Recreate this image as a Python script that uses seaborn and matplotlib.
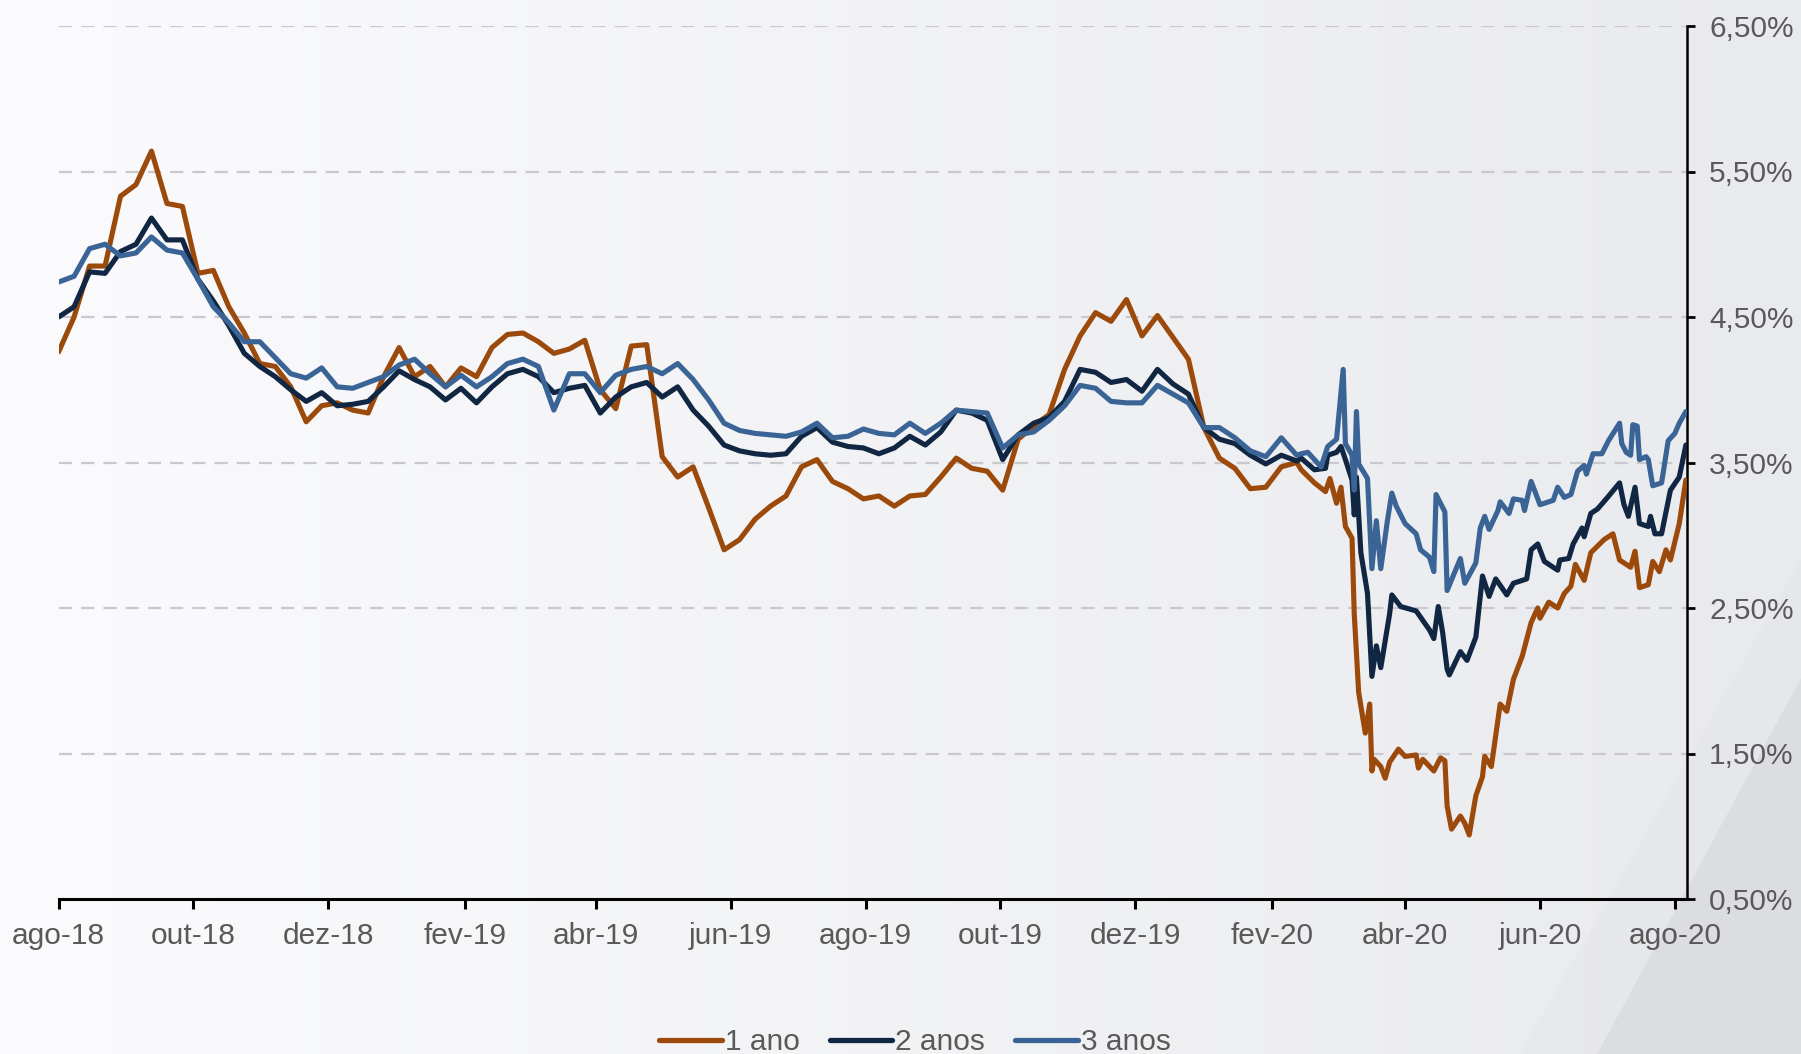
import numpy as np
import pandas as pd
import matplotlib
matplotlib.use("Agg")
import matplotlib.pyplot as plt
from matplotlib.patches import Polygon
from matplotlib.lines import Line2D
import seaborn as sns

# ---------------- data ----------------
start = pd.Timestamp("2018-08-01")

# weekly readings (day offsets 0,7,...,560) then detailed 2020 readings
weekly_days = list(range(0, 561, 7))

v1_weekly = [4.26, 4.50, 4.85, 4.85, 5.33, 5.41, 5.64, 5.28, 5.26, 4.80,
             4.82, 4.57, 4.39, 4.18, 4.16, 4.02, 3.78, 3.89, 3.91, 3.86,
             3.84, 4.09, 4.29, 4.09, 4.16, 4.02, 4.15, 4.09, 4.29, 4.38,
             4.39, 4.33, 4.25, 4.28, 4.34, 4.00, 3.87, 4.30, 4.31, 3.54,
             3.40, 3.47, 3.19, 2.90, 2.97, 3.11, 3.20, 3.27, 3.47, 3.52,
             3.37, 3.32, 3.25, 3.27, 3.20, 3.27, 3.28, 3.40, 3.53, 3.46,
             3.44, 3.31, 3.66, 3.75, 3.83, 4.14, 4.37, 4.53, 4.47, 4.62,
             4.37, 4.51, 4.36, 4.21, 3.74, 3.53, 3.46, 3.32, 3.33, 3.47,
             3.50]
v2_weekly = [4.50, 4.57, 4.81, 4.80, 4.95, 5.00, 5.18, 5.03, 5.03, 4.76,
             4.61, 4.44, 4.25, 4.16, 4.09, 4.00, 3.92, 3.98, 3.89, 3.90,
             3.92, 4.02, 4.13, 4.07, 4.02, 3.93, 4.01, 3.91, 4.02, 4.11,
             4.14, 4.09, 3.98, 4.01, 4.03, 3.84, 3.95, 4.02, 4.05, 3.95,
             4.02, 3.86, 3.75, 3.62, 3.58, 3.56, 3.55, 3.56, 3.68, 3.74,
             3.64, 3.61, 3.60, 3.56, 3.60, 3.68, 3.62, 3.71, 3.86, 3.84,
             3.79, 3.52, 3.69, 3.77, 3.81, 3.92, 4.14, 4.12, 4.05, 4.07,
             3.99, 4.14, 4.04, 3.97, 3.74, 3.66, 3.63, 3.55, 3.49, 3.55,
             3.51]
v3_weekly = [4.74, 4.78, 4.97, 5.00, 4.92, 4.94, 5.05, 4.96, 4.94, 4.76,
             4.57, 4.46, 4.33, 4.33, 4.22, 4.11, 4.08, 4.15, 4.02, 4.01,
             4.05, 4.09, 4.17, 4.21, 4.11, 4.02, 4.10, 4.02, 4.09, 4.18,
             4.21, 4.16, 3.86, 4.11, 4.11, 3.98, 4.10, 4.14, 4.16, 4.11,
             4.18, 4.07, 3.93, 3.77, 3.72, 3.70, 3.69, 3.68, 3.71, 3.77,
             3.67, 3.68, 3.73, 3.70, 3.69, 3.77, 3.70, 3.77, 3.86, 3.85,
             3.84, 3.60, 3.69, 3.71, 3.79, 3.89, 4.03, 4.01, 3.92, 3.91,
             3.91, 4.03, 3.97, 3.91, 3.74, 3.74, 3.67, 3.58, 3.54, 3.67,
             3.55]

d1_tail = [562, 568, 573, 575, 578, 580, 582, 585, 586, 588, 591, 593, 594,
           595, 598, 600, 602, 606, 609, 614, 615, 617, 622, 625, 627, 628,
           630, 634, 636, 638, 641, 644, 645, 648, 652, 655, 658, 662, 666,
           669, 670, 674, 678, 681, 684, 686, 690, 693, 699, 703, 706, 711,
           713, 715, 719, 721, 724, 727, 729, 733, 736]
v1_tail = [3.45, 3.36, 3.30, 3.39, 3.22, 3.33, 3.06, 2.98, 2.46, 1.92, 1.64,
           1.84, 1.38, 1.46, 1.41, 1.33, 1.44, 1.53, 1.48, 1.49, 1.40, 1.46,
           1.38, 1.47, 1.45, 1.14, 0.98, 1.07, 1.02, 0.94, 1.21, 1.34, 1.48,
           1.41, 1.84, 1.79, 2.01, 2.17, 2.40, 2.50, 2.43, 2.54, 2.50, 2.60,
           2.65, 2.80, 2.69, 2.88, 2.97, 3.01, 2.83, 2.78, 2.89, 2.64, 2.66,
           2.82, 2.75, 2.90, 2.83, 3.08, 3.38]

d2_tail = [562, 568, 573, 574, 578, 580, 582, 585, 586, 587, 589, 592, 594,
           596, 598, 602, 603, 607, 614, 620, 622, 624, 626, 628, 629, 634,
           637, 641, 644, 647, 650, 655, 658, 664, 666, 669, 672, 678, 679,
           683, 685, 689, 690, 693, 696, 700, 706, 708, 710, 713, 715, 719,
           720, 722, 725, 727, 729, 733, 736]
v2_tail = [3.53, 3.45, 3.46, 3.55, 3.57, 3.61, 3.52, 3.38, 3.14, 3.40, 2.88,
           2.60, 2.03, 2.24, 2.09, 2.46, 2.59, 2.51, 2.48, 2.35, 2.29, 2.51,
           2.33, 2.08, 2.04, 2.20, 2.14, 2.30, 2.72, 2.58, 2.70, 2.59, 2.67,
           2.70, 2.90, 2.94, 2.82, 2.76, 2.83, 2.84, 2.94, 3.05, 2.99, 3.15,
           3.18, 3.25, 3.36, 3.21, 3.13, 3.33, 3.08, 3.06, 3.13, 3.01, 3.01,
           3.16, 3.31, 3.40, 3.62]

d3_tail = [562, 565, 571, 574, 578, 581, 582, 585, 586, 587, 588, 592, 594,
           596, 598, 601, 603, 605, 609, 614, 616, 620, 622, 623, 627, 628,
           634, 636, 641, 643, 645, 647, 651, 652, 656, 658, 662, 663, 666,
           670, 676, 678, 681, 684, 687, 690, 691, 694, 698, 701, 706, 707,
           709, 711, 712, 714, 715, 718, 719, 721, 725, 728, 731, 733, 736]
v3_tail = [3.56, 3.57, 3.47, 3.61, 3.66, 4.14, 3.63, 3.55, 3.31, 3.85, 3.49,
           3.39, 2.77, 3.10, 2.77, 3.10, 3.29, 3.20, 3.08, 3.01, 2.90, 2.85,
           2.75, 3.28, 3.16, 2.62, 2.84, 2.67, 2.81, 3.05, 3.13, 3.04, 3.17,
           3.23, 3.15, 3.25, 3.24, 3.17, 3.37, 3.21, 3.24, 3.33, 3.26, 3.28,
           3.44, 3.48, 3.42, 3.56, 3.56, 3.65, 3.77, 3.63, 3.57, 3.55, 3.76,
           3.75, 3.52, 3.54, 3.52, 3.34, 3.36, 3.65, 3.70, 3.77, 3.85]

series_names = ["1 ano", "2 anos", "3 anos"]
series_colors = ["#9C4A0C", "#102642", "#3A6496"]

tick_dates = ["2018-08-01", "2018-10-01", "2018-12-01", "2019-02-01",
              "2019-04-01", "2019-06-01", "2019-08-01", "2019-10-01",
              "2019-12-01", "2020-02-01", "2020-04-01", "2020-06-01",
              "2020-08-01"]
tick_labels = ["ago-18", "out-18", "dez-18", "fev-19", "abr-19", "jun-19",
               "ago-19", "out-19", "dez-19", "fev-20", "abr-20", "jun-20",
               "ago-20"]
y_ticks = [0.5, 1.5, 2.5, 3.5, 4.5, 5.5, 6.5]
y_labels = ["0,50%", "1,50%", "2,50%", "3,50%", "4,50%", "5,50%", "6,50%"]

# ---------------- build table ----------------
frames = []
for name, d_tail, v_w, v_t in [
        ("1 ano", d1_tail, v1_weekly, v1_tail),
        ("2 anos", d2_tail, v2_weekly, v2_tail),
        ("3 anos", d3_tail, v3_weekly, v3_tail)]:
    days = weekly_days + d_tail
    vals = v_w + v_t
    frames.append(pd.DataFrame({
        "data": start + pd.to_timedelta(days, unit="D"),
        "taxa": vals,
        "serie": name}))
df = pd.concat(frames, ignore_index=True)

# ---------------- figure ----------------
sns.set_theme(style="white")
plt.rcParams["font.family"] = ["Liberation Sans", "DejaVu Sans"]
plt.rcParams["lines.scale_dashes"] = False

W, H = 1801, 1054
fig = plt.figure(figsize=(W / 100, H / 100), dpi=100)

# background gradient + diagonal shape
bg = fig.add_axes([0, 0, 1, 1], zorder=-10)
grad = np.linspace(0, 1, 400)
c0 = np.array([251, 251, 253]) / 255
c1 = np.array([233, 234, 237]) / 255
img = (c0[None, :] * (1 - grad[:, None]) + c1[None, :] * grad[:, None])[None, :, :]
bg.imshow(img, extent=[0, 1, 0, 1], aspect="auto", origin="lower")
bg.add_patch(Polygon([[1597 / W, 0], [1, 0], [1, 1 - 678 / H]],
                     closed=True, facecolor="#d9dadd", edgecolor="none", alpha=0.8))
bg.add_patch(Polygon([[1520 / W, 0], [1597 / W, 0], [1, 1 - 678 / H], [1, 1 - 560 / H]],
                     closed=True, facecolor="#e4e5e8", edgecolor="none", alpha=0.5))
bg.set_xlim(0, 1)
bg.set_ylim(0, 1)
bg.axis("off")

ax = fig.add_axes([58.6 / W, 1 - 899 / H, (1687 - 58.6) / W, (899 - 26) / H])
ax.set_facecolor("none")

x0 = pd.Timestamp("2018-08-01")
x1 = start + pd.Timedelta(days=736.5)

# grid lines
for yv in y_ticks[1:]:
    ax.plot([x0, x1], [yv, yv], color="#c9c9cd", lw=1.6,
            linestyle=(0, (9.5, 6.5)), zorder=1)

sns.lineplot(data=df, x="data", y="taxa", hue="serie",
             hue_order=series_names,
             palette=dict(zip(series_names, series_colors)),
             estimator=None, ax=ax, zorder=3, legend=False)
for ln in ax.get_lines()[len(y_ticks) - 1:]:
    ln.set_linewidth(3.7)
    ln.set_solid_joinstyle("round")

ax.set_xlim(x0, x1)
ax.set_ylim(0.5, 6.5)

ax.set_xticks(pd.to_datetime(tick_dates))
ax.set_xticklabels(tick_labels)
ax.set_yticks(y_ticks)
ax.set_yticklabels(y_labels)
ax.yaxis.tick_right()
ax.set_xlabel("")
ax.set_ylabel("")

for s in ["top", "left"]:
    ax.spines[s].set_visible(False)
ax.spines["bottom"].set_color("black")
ax.spines["bottom"].set_linewidth(2.2)
ax.spines["right"].set_color("black")
ax.spines["right"].set_linewidth(1.8)

ax.tick_params(axis="x", direction="out", length=7.5, width=2.2, color="black",
               labelsize=21.5, labelcolor="#595959", pad=9, bottom=True)
ax.tick_params(axis="y", direction="out", length=6, width=2, color="black",
               labelsize=21.5, labelcolor="#595959", pad=10, right=True, left=False)

# legend
handles = [Line2D([0], [0], color=c, lw=3.8, solid_capstyle="round")
           for c in series_colors]
leg = fig.legend(handles, series_names, loc="center",
                 bbox_to_anchor=(915 / W, (H - 1042) / H), ncol=3,
                 frameon=False, fontsize=21.5, handlelength=2.1,
                 handletextpad=0.1, columnspacing=1.0, borderpad=0)
for t in leg.get_texts():
    t.set_color("#595959")

fig.savefig("out.png", dpi=100)
